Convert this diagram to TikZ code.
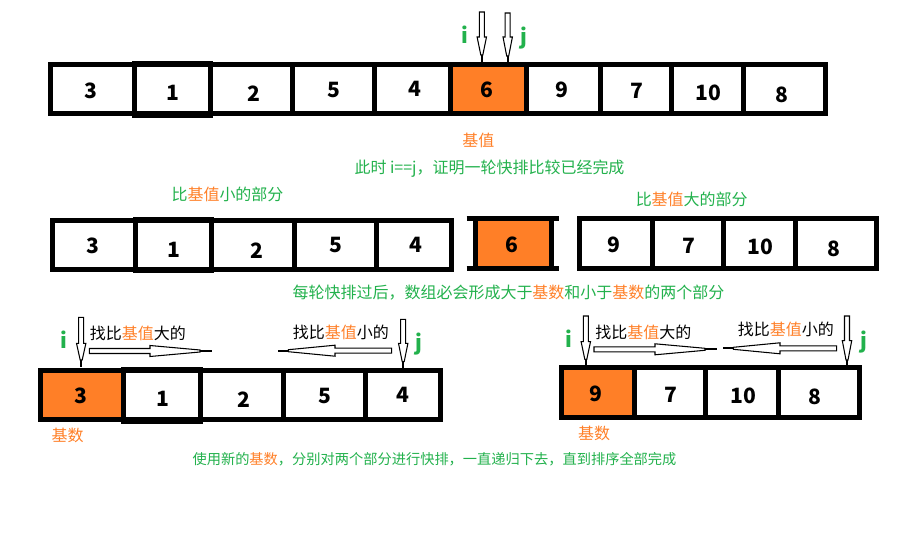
\documentclass[tikz,border=0pt]{standalone}
\usepackage{fontspec}
\setmainfont{Noto Sans CJK SC}
\usepackage{xcolor}
\usepackage{tikz}
\definecolor{myorange}{RGB}{255,127,39}
\definecolor{mygreen}{RGB}{34,177,76}
\tikzset{
  cellbox/.style={draw=black, line width=0.1cm},
  pivotfill/.style={fill=myorange},
  num/.style={font=\bfseries\fontsize{12}{14}\selectfont, inner sep=0pt},
  ptr/.style={font=\bfseries\fontsize{12}{14}\selectfont, text=mygreen, inner sep=0pt},
  note/.style={font=\fontsize{9.1}{11}\selectfont, text=mygreen, inner sep=0pt},
  hint/.style={font=\fontsize{9.1}{11}\selectfont, text=black, inner sep=0pt},
  base/.style={font=\fontsize{9.1}{11}\selectfont, text=myorange, inner sep=0pt},
  hollow/.style={draw=black, fill=white, line width=0.6pt},
  tipline/.style={draw=black, line width=1.1pt}
}
% hollow pointer going down: x, top, head start, tip, end of line
\newcommand{\downptr}[5]{%
  \draw[hollow] ({#1-2.5},#2) -- ({#1+2.5},#2) -- ({#1+2.5},#3) -- ({#1+4.7},#3)
    -- ({#1+1},#4) -- ({#1-1},#4) -- ({#1-4.7},#3) -- ({#1-2.5},#3) -- cycle;
  \draw[tipline] (#1,#4) -- (#1,#5);}
% hollow pointer going sideways: y, tail, head start, tip, end of line
\newcommand{\sideptr}[5]{%
  \draw[hollow] (#2,{#1-2.5}) -- (#3,{#1-2.5}) -- (#3,{#1-5.5}) -- (#4,{#1-1})
    -- (#4,{#1+1}) -- (#3,{#1+5.5}) -- (#3,{#1+2.5}) -- (#2,{#1+2.5}) -- cycle;
  \draw[tipline] (#4,#1) -- (#5,#1);}

\begin{document}
\begin{tikzpicture}[x=0.02cm, y=-0.02cm]
  \useasboundingbox (0,0) rectangle (911,547);

  % First round: whole array
  \fill[pivotfill] (450,65) rectangle (526,114);
  \draw[cellbox] (50.8,65) rectangle (825,114);
  \draw[cellbox] (292.5,65) -- (292.5,114) (374,65) -- (374,114) (450,65) -- (450,114)
    (526,65) -- (526,114) (600,65) -- (600,114) (671.5,65) -- (671.5,114) (743.5,65) -- (743.5,114);
  \draw[cellbox] (134,63.5) rectangle (210,115.5);
  \node[num] (t1) at (91,90.5) {3};
  \node[num] (t2) at (172.7,93.2) {1};
  \node[num] (t3) at (254,93.3) {2};
  \node[num] (t4) at (334,90) {5};
  \node[num] (t5) at (415,89.2) {4};
  \node[num] (t6) at (486.7,89.8) {6};
  \node[num] (t7) at (562,89.5) {9};
  \node[num] (t8) at (636.7,91.2) {7};
  \node[num] (t9) at (708,92.5) {10};
  \node[num] (t10) at (781.7,94.8) {8};

  % i and j meet on the pivot
  \downptr{481.8}{12}{37}{55}{62}
  \downptr{507.7}{13}{37}{56}{62}
  \node[ptr] (ti) at (464.7,34.5) {i};
  \node[ptr] (tj) at (523.5,38) {j};
  \node[base] (tpivot) at (478.3,140.8) {基值};
  \node[note] (tnote) at (489.5,168.3) {此时 i==j，证明一轮快排比较已经完成};

  % Second row: two parts around the pivot
  \node[note] (mleft) at (227.5,194.5) {比\textcolor{myorange}{基值}小的部分};
  \node[note] (mright) at (691.7,199.7) {比\textcolor{myorange}{基值}大的部分};
  \draw[cellbox] (52.5,220.8) rectangle (451.8,269.8);
  \draw[cellbox] (294.2,220.8) -- (294.2,269.8) (376.8,220.8) -- (376.8,269.8);
  \draw[cellbox] (135.8,219.8) rectangle (211.8,270.8);
  \node[num] (m1) at (93.3,245.8) {3};
  \node[num] (m2) at (174,250) {1};
  \node[num] (m3) at (256.7,250.8) {2};
  \node[num] (m4) at (335.8,245.3) {5};
  \node[num] (m5) at (415.5,244.7) {4};

  \fill[pivotfill] (478,221) rectangle (549,266);
  \draw[cellbox] (466.7,218.5) -- (559,218.5) (466.7,268.2) -- (559,268.2);
  \draw[cellbox] (475.5,216) -- (475.5,270.7) (551.7,216) -- (551.7,270.7);
  \node[num] (m6) at (511.7,244.5) {6};

  \draw[cellbox] (579.5,218.5) rectangle (876.8,268.2);
  \draw[cellbox] (652.5,218.5) -- (652.5,268.2) (723.2,218.5) -- (723.2,268.2) (795.8,218.5) -- (795.8,268.2);
  \node[num] (m7) at (613.8,245) {9};
  \node[num] (m8) at (689.2,245.8) {7};
  \node[num] (m9) at (760.8,247.2) {10};
  \node[num] (m10) at (834.2,248.7) {8};

  \node[note] (mnote) at (508.5,292.5) {每轮快排过后，数组必会形成大于\textcolor{myorange}{基数}和小于\textcolor{myorange}{基数}的两个部分};

  % Left part, new pivot 3
  \fill[pivotfill] (40.8,370.8) rectangle (123.8,419.8);
  \draw[cellbox] (40.8,370.8) rectangle (440.8,419.8);
  \draw[cellbox] (283.2,370.8) -- (283.2,419.8) (365.2,370.8) -- (365.2,419.8);
  \draw[cellbox] (123.8,369.2) rectangle (200.8,421.8);
  \node[num] (l1) at (81.2,395.8) {3};
  \node[num] (l2) at (162.5,399.2) {1};
  \node[num] (l3) at (244.2,399.8) {2};
  \node[num] (l4) at (325,395.8) {5};
  \node[num] (l5) at (403.3,394.7) {4};
  \node[base] (lpivot) at (67.5,435.8) {基数};

  \downptr{81.2}{317.3}{343.3}{360}{367}
  \downptr{403.2}{319.3}{343.3}{361.7}{368}
  \node[ptr] (li) at (64.2,339.5) {i};
  \node[ptr] (lj) at (418.8,343.8) {j};
  \sideptr{351}{89.3}{150}{200}{211.7}
  \sideptr{350.7}{391.7}{335}{288.3}{278.3}
  \node[hint] (lbig) at (137.8,333.7) {找比\textcolor{myorange}{基值}大的};
  \node[hint] (lsmall) at (340.8,332.2) {找比\textcolor{myorange}{基值}小的};

  % Right part, new pivot 9
  \fill[pivotfill] (561.3,367) rectangle (634.7,417);
  \draw[cellbox] (561.3,367) rectangle (859.2,417);
  \draw[cellbox] (634.7,367) -- (634.7,417) (705.5,367) -- (705.5,417) (778.3,367) -- (778.3,417);
  \node[num] (r1) at (596.3,393.8) {9};
  \node[num] (r2) at (670.8,394.7) {7};
  \node[num] (r3) at (743.8,396.2) {10};
  \node[num] (r4) at (815,397.2) {8};
  \node[base] (rpivot) at (594.2,433) {基数};

  \downptr{585.8}{316}{341.7}{359.3}{365}
  \downptr{847}{316}{340.7}{360}{365}
  \node[ptr] (ri) at (568.8,338.3) {i};
  \node[ptr] (rj) at (863.7,342.2) {j};
  \sideptr{349.3}{594}{655}{705}{716.7}
  \sideptr{348.3}{836.7}{780}{733.3}{723.3}
  \node[hint] (rbig) at (643.3,332.2) {找比\textcolor{myorange}{基值}大的};
  \node[hint] (rsmall) at (785.8,329.7) {找比\textcolor{myorange}{基值}小的};

  \node[note, font=\fontsize{8.1}{10}\selectfont] (bnote) at (434.5,459.3) {使用新的\textcolor{myorange}{基数}，分别对两个部分进行快排，一直递归下去，直到排序全部完成};
\end{tikzpicture}
\end{document}
